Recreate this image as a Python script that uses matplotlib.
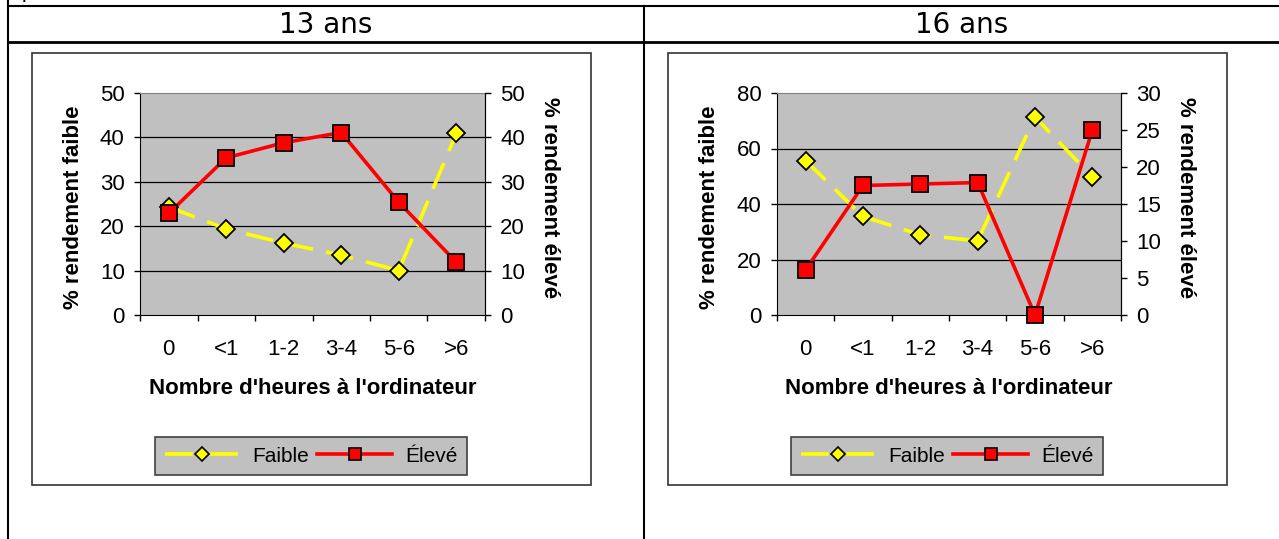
import matplotlib
matplotlib.use("Agg")
import matplotlib.pyplot as plt
from matplotlib.lines import Line2D
from matplotlib.patches import Rectangle

plt.rcParams['font.family'] = ['Liberation Sans', 'DejaVu Sans']
plt.rcParams['lines.scale_dashes'] = False

# data
categories = ['0', '<1', '1-2', '3-4', '5-6', '>6']
faible_13 = [24.3, 19.4, 16.2, 13.5, 10.0, 40.9]
eleve_13 = [22.9, 35.4, 38.8, 41.1, 25.4, 11.9]
faible_16 = [55.6, 35.5, 28.9, 26.7, 71.3, 49.8]
eleve_16 = [6.1, 17.5, 17.7, 17.9, 0.0, 25.0]
ticks_left_13 = [0, 10, 20, 30, 40, 50]
ticks_right_13 = [0, 10, 20, 30, 40, 50]
ticks_left_16 = [0, 20, 40, 60, 80]
ticks_right_16 = [0, 5, 10, 15, 20, 25, 30]
titles = ['13 ans', '16 ans']

W, H = 1279, 539
fig = plt.figure(figsize=(W / 100, H / 100), dpi=100)


def fx(x):
    return x / W


def fy(y):
    return 1 - y / H


def box(x0, y0, x1, y1):
    return [fx(x0), fy(y1), (x1 - x0) / W, (y1 - y0) / H]


# table lines
tl = dict(color='black', lw=1.5, transform=fig.transFigure)
fig.add_artist(Line2D([fx(8), 1], [fy(5.5), fy(5.5)], **tl))
fig.add_artist(Line2D([fx(8), 1], [fy(42), fy(42)], lw=2, color='black', transform=fig.transFigure))
fig.add_artist(Line2D([fx(8), fx(8)], [1, 0], **tl))
fig.add_artist(Line2D([fx(643.5), fx(643.5)], [fy(5.5), 0], **tl))
# only the bottom of a letter from the line above shows in the picture
fig.text(fx(22), fy(-1.5), 'p', fontsize=15, va='baseline', ha='left')

yellow_kw = dict(color='#FFFF00', lw=2.6, dashes=(20, 9.5), marker='D', ms=9.5,
                 mfc='#FFFF00', mec='black', mew=1.3, clip_on=False, zorder=3)
red_kw = dict(color='#FF0000', lw=2.6, marker='s', ms=12,
              mfc='#FF0000', mec='black', mew=1.3, clip_on=False, zorder=4)

panels = [
    dict(off=0, faible=faible_13, eleve=eleve_13, tl=ticks_left_13, tr=ticks_right_13),
    dict(off=636, faible=faible_16, eleve=eleve_16, tl=ticks_left_16, tr=ticks_right_16),
]
plot_x = [(140, 485), (777, 1121)]

for i, p in enumerate(panels):
    off = p['off']
    # chart frame
    fig.add_artist(Rectangle((fx(32 + off), fy(485)), 559 / W, 432 / H,
                             fill=False, ec='#333333', lw=1.2, transform=fig.transFigure))
    fig.text(fx((8 + 643.5) / 2 + off), fy(25), titles[i], fontsize=20,
             family='DejaVu Sans', ha='center', va='center')

    x0, x1 = plot_x[i]
    ax = fig.add_axes(box(x0, 93, x1, 315))
    ax.set_facecolor('#C0C0C0')
    x = list(range(len(categories)))
    ax.set_xlim(-0.5, len(categories) - 0.5)
    ax.set_ylim(p['tl'][0], p['tl'][-1])
    ax.set_yticks(p['tl'])
    for v in p['tl'][1:-1]:
        ax.axhline(v, color='black', lw=0.9, zorder=1)
    ax.plot(x, p['faible'], **yellow_kw)

    ax.set_xticks([k - 0.5 for k in range(len(categories) + 1)])
    ax.set_xticklabels([])
    ax.set_xticks(x, minor=True)
    ax.set_xticklabels(categories, minor=True)
    ax.tick_params(axis='x', which='major', length=4, width=1, direction='out')
    ax.tick_params(axis='x', which='minor', length=0, pad=17, labelsize=16)
    ax.tick_params(axis='y', length=4, width=1, direction='out', pad=7, labelsize=16)
    for s in ['left', 'bottom', 'right']:
        ax.spines[s].set_color('black')
    ax.spines['top'].set_color('#808080')

    ax2 = ax.twinx()
    ax2.set_ylim(p['tr'][0], p['tr'][-1])
    ax2.set_yticks(p['tr'])
    ax2.tick_params(axis='y', length=4, width=1, direction='out', pad=7, labelsize=16)
    for s in ['left', 'bottom', 'top']:
        ax2.spines[s].set_visible(False)
    ax2.plot(x, p['eleve'], **red_kw)

    # axis titles
    fig.text(fx(73.5 + off), fy(207.5), '% rendement faible', rotation=90,
             fontsize=16, fontweight='bold', ha='center', va='center')
    fig.text(fx(550 + off), fy(197.5), '% rendement élevé', rotation=-90,
             fontsize=16, fontweight='bold', ha='center', va='center')
    fig.text(fx((x0 + x1) / 2), fy(388), "Nombre d'heures à l'ordinateur",
             fontsize=16, fontweight='bold', ha='center', va='center')

    handles = [
        Line2D([], [], color='#FFFF00', lw=2.6, dashes=(20, 12.5), marker='D', ms=7,
               mfc='#FFFF00', mec='black', mew=1.2),
        Line2D([], [], color='#FF0000', lw=2.6, marker='s', ms=9,
               mfc='#FF0000', mec='black', mew=1.2),
    ]
    leg = ax.legend(handles, ['Faible', 'Élevé'], ncol=2, loc='center',
                    bbox_to_anchor=(fx(311 + off), fy(456)), bbox_transform=fig.transFigure,
                    fontsize=15, handlelength=3.6, handletextpad=0.6, columnspacing=0.4,
                    fancybox=False, framealpha=1, facecolor='#C0C0C0',
                    edgecolor='#404040', borderpad=0.45, borderaxespad=0)
    leg.get_frame().set_linewidth(1.2)
    leg.set_zorder(10)

fig.savefig('out.png', dpi=100)
